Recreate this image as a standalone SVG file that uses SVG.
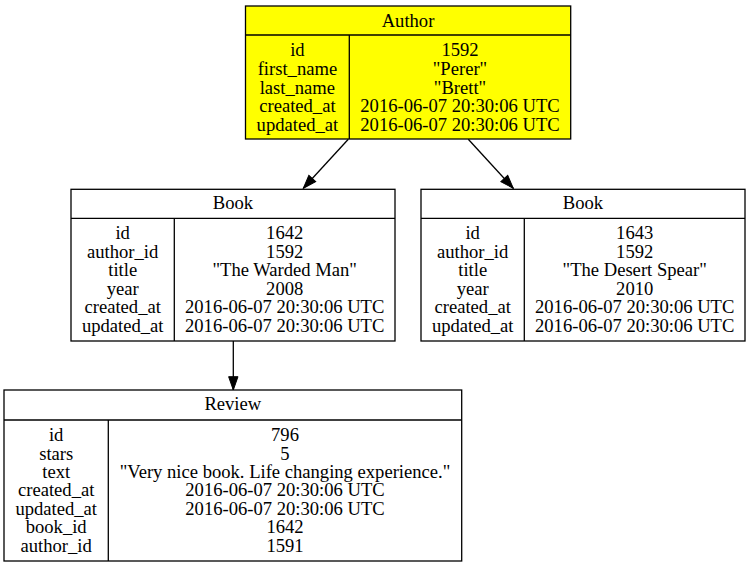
<svg xmlns="http://www.w3.org/2000/svg" width="751" height="567" viewBox="0 0 751 567">
<defs>
<style>
text{font-family:"Liberation Serif","Times New Roman",serif;font-size:18.6px;text-anchor:middle;fill:#000}
.box{fill:#fff;stroke:#000;stroke-width:1.3}
.yel{fill:#ffff00;stroke:#000;stroke-width:1.3}
.ln{stroke:#000;stroke-width:1.3;fill:none}
.edge{stroke:#000;stroke-width:1.3;fill:none;marker-end:url(#arr)}
</style>
<marker id="arr" markerUnits="userSpaceOnUse" markerWidth="14" markerHeight="10" refX="13.3" refY="4.67" orient="auto" overflow="visible">
<path d="M0,0 L13.3,4.67 L0,9.33 z" fill="#000" stroke="#000" stroke-width="1"/>
</marker>
</defs>
<rect width="751" height="567" fill="#fff"/>
<g id="edges">
<line class="edge" x1="348.3" y1="139.3" x2="303.3" y2="188.3"/>
<line class="edge" x1="468.3" y1="139.3" x2="513.3" y2="188.3"/>
<line class="edge" x1="233.3" y1="341" x2="233.3" y2="390"/>
</g>
<g id="author">
<rect class="yel" x="245.5" y="6" width="325.2" height="133"/>
<line class="ln" x1="245.5" y1="35" x2="570.7" y2="35"/>
<line class="ln" x1="349.3" y1="35" x2="349.3" y2="139"/>
<text x="408" y="27">Author</text>
<text><tspan x="297.4" y="56">id</tspan><tspan x="297.4" y="74.8">first_name</tspan><tspan x="297.4" y="93.6">last_name</tspan><tspan x="297.4" y="112.4">created_at</tspan><tspan x="297.4" y="131.2">updated_at</tspan></text>
<text><tspan x="460" y="56">1592</tspan><tspan x="460" y="74.8">"Perer"</tspan><tspan x="460" y="93.6">"Brett"</tspan><tspan x="460" y="112.4">2016-06-07 20:30:06 UTC</tspan><tspan x="460" y="131.2">2016-06-07 20:30:06 UTC</tspan></text>
</g>
<g id="book1">
<rect class="box" x="71" y="189.3" width="324" height="151.7"/>
<line class="ln" x1="71" y1="218.3" x2="395" y2="218.3"/>
<line class="ln" x1="174.3" y1="218.3" x2="174.3" y2="341"/>
<text x="233" y="209.3">Book</text>
<text><tspan x="122.7" y="239">id</tspan><tspan x="122.7" y="257.5">author_id</tspan><tspan x="122.7" y="276">title</tspan><tspan x="122.7" y="294.6">year</tspan><tspan x="122.7" y="313.1">created_at</tspan><tspan x="122.7" y="331.7">updated_at</tspan></text>
<text><tspan x="284.7" y="239">1642</tspan><tspan x="284.7" y="257.5">1592</tspan><tspan x="284.7" y="276">"The Warded Man"</tspan><tspan x="284.7" y="294.6">2008</tspan><tspan x="284.7" y="313.1">2016-06-07 20:30:06 UTC</tspan><tspan x="284.7" y="331.7">2016-06-07 20:30:06 UTC</tspan></text>
</g>
<g id="book2">
<rect class="box" x="421" y="189.3" width="324" height="151.7"/>
<line class="ln" x1="421" y1="218.3" x2="745" y2="218.3"/>
<line class="ln" x1="524.3" y1="218.3" x2="524.3" y2="341"/>
<text x="583" y="209.3">Book</text>
<text><tspan x="472.7" y="239">id</tspan><tspan x="472.7" y="257.5">author_id</tspan><tspan x="472.7" y="276">title</tspan><tspan x="472.7" y="294.6">year</tspan><tspan x="472.7" y="313.1">created_at</tspan><tspan x="472.7" y="331.7">updated_at</tspan></text>
<text><tspan x="634.7" y="239">1643</tspan><tspan x="634.7" y="257.5">1592</tspan><tspan x="634.7" y="276">"The Desert Spear"</tspan><tspan x="634.7" y="294.6">2010</tspan><tspan x="634.7" y="313.1">2016-06-07 20:30:06 UTC</tspan><tspan x="634.7" y="331.7">2016-06-07 20:30:06 UTC</tspan></text>
</g>
<g id="review">
<rect class="box" x="4" y="390" width="457.7" height="171"/>
<line class="ln" x1="4" y1="420" x2="461.7" y2="420"/>
<line class="ln" x1="108.3" y1="420" x2="108.3" y2="561"/>
<text x="232.8" y="410">Review</text>
<text><tspan x="56.2" y="441">id</tspan><tspan x="56.2" y="459.5">stars</tspan><tspan x="56.2" y="477.9">text</tspan><tspan x="56.2" y="496.4">created_at</tspan><tspan x="56.2" y="514.8">updated_at</tspan><tspan x="56.2" y="533.3">book_id</tspan><tspan x="56.2" y="551.7">author_id</tspan></text>
<text><tspan x="285" y="441">796</tspan><tspan x="285" y="459.5">5</tspan><tspan x="285" y="477.9">"Very nice book. Life changing experience."</tspan><tspan x="285" y="496.4">2016-06-07 20:30:06 UTC</tspan><tspan x="285" y="514.8">2016-06-07 20:30:06 UTC</tspan><tspan x="285" y="533.3">1642</tspan><tspan x="285" y="551.7">1591</tspan></text>
</g>
</svg>
